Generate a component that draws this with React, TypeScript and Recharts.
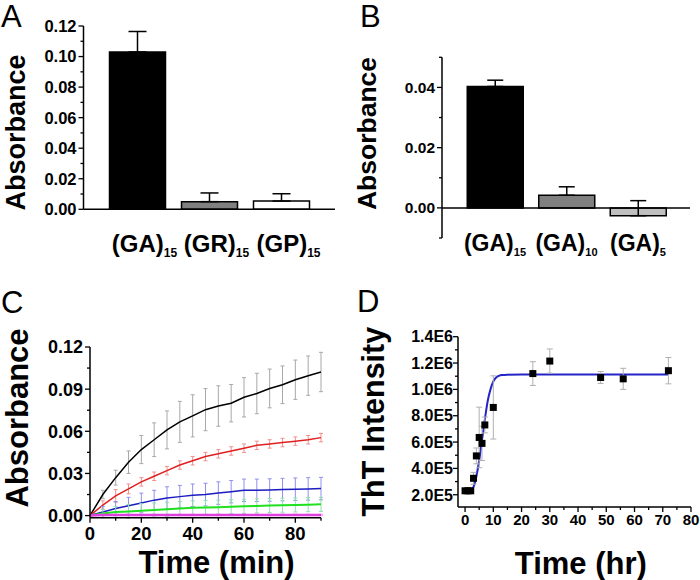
import React from "react";
import {
  BarChart,
  Bar,
  Cell,
  XAxis,
  YAxis,
  ErrorBar,
  ReferenceLine,
  LineChart,
  Line,
  ComposedChart,
  Scatter,
} from "recharts";

const FONT = "'Liberation Sans', Arial, Helvetica, sans-serif";

// ---- panel A ----
const aCategories = ["(GA)15", "(GR)15", "(GP)15"];
const aValues = [0.103, 0.005, 0.0054];
const aErrors = [0.0134, 0.0057, 0.0048];
const aColors = ["#000000", "#808080", "#ffffff"];
const aTicks = [0, 0.01, 0.02, 0.03, 0.04, 0.05, 0.06, 0.07, 0.08, 0.09, 0.1, 0.11, 0.12];
const aLabels = [0, 0.02, 0.04, 0.06, 0.08, 0.1, 0.12];

// ---- panel B ----
const bCategories = ["(GA)15", "(GA)10", "(GA)5"];
const bValues = [0.0403, 0.0042, -0.0026];
const bErrors = [0.0021, 0.0028, 0.005];
const bColors = ["#000000", "#808080", "#c0c0c0"];
const bTicks = [-0.01, 0, 0.01, 0.02, 0.03, 0.04, 0.05];
const bLabels = [0, 0.02, 0.04];

// ---- panel C ----
const cTimes = [0, 5, 10, 15, 20, 25, 30, 35, 40, 45, 50, 55, 60, 65, 70, 75, 80, 85, 90];
const cBlack = [0, 0.015, 0.027, 0.038, 0.047, 0.054, 0.061, 0.0667, 0.071, 0.0754, 0.078, 0.08, 0.0842, 0.0869, 0.0905, 0.0931, 0.0967, 0.0996, 0.1022];
const cBlackErr = [0, 0.003, 0.0053, 0.008, 0.01, 0.012, 0.0135, 0.0146, 0.015, 0.015, 0.0144, 0.0133, 0.014, 0.0144, 0.0138, 0.0134, 0.014, 0.014, 0.014];
const cRed = [0, 0.0075, 0.014, 0.019, 0.024, 0.028, 0.032, 0.036, 0.039, 0.042, 0.044, 0.046, 0.048, 0.05, 0.051, 0.052, 0.053, 0.054, 0.0555];
const cRedErr = [0, 0.003, 0.0045, 0.0035, 0.003, 0.003, 0.003, 0.003, 0.003, 0.003, 0.003, 0.003, 0.003, 0.003, 0.003, 0.003, 0.003, 0.003, 0.003];
const cBlue = [0, 0.0025, 0.005, 0.007, 0.009, 0.011, 0.0125, 0.0135, 0.0145, 0.015, 0.016, 0.017, 0.018, 0.018, 0.0182, 0.0185, 0.0188, 0.019, 0.0192];
const cBlueErr = [0, 0.004, 0.005, 0.006, 0.007, 0.007, 0.008, 0.008, 0.008, 0.008, 0.008, 0.008, 0.008, 0.008, 0.008, 0.008, 0.008, 0.008, 0.008];
const cGreen = [0, 0.0015, 0.0025, 0.003, 0.0035, 0.004, 0.0045, 0.005, 0.0055, 0.0058, 0.006, 0.0063, 0.0066, 0.0069, 0.0072, 0.0074, 0.0076, 0.0078, 0.008];
const cGreenErr = [0, 0.003, 0.004, 0.005, 0.005, 0.005, 0.005, 0.005, 0.005, 0.005, 0.005, 0.005, 0.005, 0.005, 0.005, 0.005, 0.005, 0.005, 0.005];
const cMagenta = [0, 0.0005, 0.0005, 0.0005, 0.0005, 0.0005, 0.0005, 0.0005, 0.0005, 0.0005, 0.0005, 0.0005, 0.0005, 0.0005, 0.0005, 0.0005, 0.0005, 0.0005, 0.0005];
const cMagentaErr = [0, 0.0005, 0.0005, 0.0005, 0.0005, 0.0005, 0.0005, 0.0005, 0.0005, 0.0005, 0.0005, 0.0005, 0.0005, 0.0005, 0.0005, 0.0005, 0.0005, 0.0005, 0.0005];
const cXTicks = [0, 10, 20, 30, 40, 50, 60, 70, 80, 90];
const cXLabels = [0, 20, 40, 60, 80];
const cYTicks = [0, 0.015, 0.03, 0.045, 0.06, 0.075, 0.09, 0.105, 0.12];
const cYLabels = [0, 0.03, 0.06, 0.09, 0.12];

// ---- panel D ----
const dTimes = [0, 1, 2, 3, 4, 5, 6, 7, 10, 24, 30, 48, 56, 72];
const dValues = [2.3e5, 2.3e5, 2.3e5, 3.25e5, 4.95e5, 6.35e5, 5.9e5, 7.3e5, 8.63e5, 1.12e6, 1.215e6, 1.09e6, 1.08e6, 1.142e6];
const dErrors = [1.5e4, 1.5e4, 1.5e4, 4.5e4, 6e4, 2.3e5, 1.3e5, 6e4, 2.4e5, 9e4, 9.2e4, 4.5e4, 8e4, 1e5];
const dFitTimes = [0, 1, 2, 3, 4, 5, 6, 7, 8, 9, 10, 11, 12, 13, 15, 20, 72];
const dFitValues = [2.32e5, 2.33e5, 2.38e5, 2.6e5, 3.4e5, 4.6e5, 6.15e5, 7.7e5, 9.1e5, 1.0e6, 1.06e6, 1.09e6, 1.103e6, 1.109e6, 1.112e6, 1.113e6, 1.113e6];
const dXTicks = [0, 5, 10, 15, 20, 25, 30, 35, 40, 45, 50, 55, 60, 65, 70, 75, 80];
const dXLabels = [0, 10, 20, 30, 40, 50, 60, 70, 80];
const dYTicks = [2e5, 3e5, 4e5, 5e5, 6e5, 7e5, 8e5, 9e5, 1e6, 1.1e6, 1.2e6, 1.3e6, 1.4e6];
const dYLabels = [2e5, 4e5, 6e5, 8e5, 1e6, 1.2e6, 1.4e6];

const aData = aCategories.map((name, i) => ({ name, value: aValues[i], err: [0, aErrors[i]] }));
const bData = bCategories.map((name, i) => ({ name, value: bValues[i], err: [0, bErrors[i]] }));
const cData = cTimes.map((t, i) => ({
  t,
  black: cBlack[i],
  blackErr: cBlackErr[i],
  red: cRed[i],
  redErr: cRedErr[i],
  blue: cBlue[i],
  blueErr: cBlueErr[i],
  green: cGreen[i],
  greenErr: cGreenErr[i],
  magenta: cMagenta[i],
  magentaErr: cMagentaErr[i],
}));
const dPoints = dTimes.map((t, i) => ({ t, v: dValues[i], err: dErrors[i] }));
const dFit = dFitTimes.map((t, i) => ({ t, v: dFitValues[i] }));

const cLines = [
  { key: "black", color: "#000000", errColor: "#a8a8a8", width: 1.5 },
  { key: "red", color: "#e02020", errColor: "#f09090", width: 1.5 },
  { key: "blue", color: "#1c1cc0", errColor: "#9090f0", width: 1.5 },
  { key: "green", color: "#20e020", errColor: "#90e0b0", width: 2 },
  { key: "magenta", color: "#e040e0", errColor: "#f0a0f0", width: 2.5 },
];

const isIn = (list: number[], v: number) => list.some((l) => Math.abs(l - v) < 1e-9 * Math.max(1, Math.abs(l)));

const yTick = (labels: number[], fmt: (v: number) => string, size: number, gap: number) => (props: any) => {
  const { x, y, payload } = props;
  const major = isIn(labels, payload.value);
  return (
    <g>
      <line x1={x} x2={x - (major ? 5 : 3)} y1={y} y2={y} stroke="#000" strokeWidth={1.3} />
      {major && (
        <text x={x - gap} y={y} dy="0.36em" textAnchor="end" fontFamily={FONT} fontWeight="bold" fontSize={size} fill="#000">
          {fmt(payload.value)}
        </text>
      )}
    </g>
  );
};

const xTick = (labels: number[], size: number, dy: number) => (props: any) => {
  const { x, y, payload } = props;
  const major = isIn(labels, payload.value);
  return (
    <g>
      <line x1={x} x2={x} y1={y} y2={y + (major ? 5 : 3)} stroke="#000" strokeWidth={1.3} />
      {major && (
        <text x={x} y={y + dy} textAnchor="middle" fontFamily={FONT} fontWeight="bold" fontSize={size} fill="#000">
          {payload.value}
        </text>
      )}
    </g>
  );
};

const catTick = (size: number, sub: number, dy: number, dx: number) => (props: any) => {
  const { x, y, payload } = props;
  const m = String(payload.value).match(/^(\(.*\))(\d+)$/);
  return (
    <text x={x + dx} y={y + dy} textAnchor="middle" fontFamily={FONT} fontWeight="bold" fontSize={size} fill="#000">
      <tspan>{m ? m[1] : payload.value}</tspan>
      {m && (
        <tspan fontSize={sub} dy={5}>
          {m[2]}
        </tspan>
      )}
    </text>
  );
};

const Title = ({ titleX, titleY, title, titleSize, vertical }: any) => (
  <text
    x={titleX}
    y={titleY}
    transform={vertical ? `rotate(-90, ${titleX}, ${titleY})` : undefined}
    textAnchor="middle"
    fontFamily={FONT}
    fontWeight="bold"
    fontSize={titleSize}
    fill="#000"
  >
    {title}
  </text>
);

const fixed2 = (v: number) => v.toFixed(2);
const sci = (v: number) => v.toExponential(1).toUpperCase().replace("+", "");

const PanelA = () => (
  <BarChart width={350} height={290} data={aData} margin={{ top: 26, right: 15, bottom: 0, left: 0 }}>
    <XAxis
      dataKey="name"
      height={80.7}
      padding={{ left: 18, right: 17.5 }}
      axisLine={{ stroke: "#000", strokeWidth: 1.5 }}
      tickLine={false}
      tickSize={0}
      tickMargin={0}
      interval={0}
      tick={catTick(24, 12, 43, 7)}
    />
    <YAxis
      width={83.5}
      domain={[0, 0.12]}
      ticks={aTicks}
      interval={0}
      allowDataOverflow
      axisLine={{ stroke: "#000", strokeWidth: 1.5 }}
      tickLine={false}
      tickSize={0}
      tickMargin={0}
      tick={yTick(aLabels, fixed2, 16.5, 7)}
      label={<Title titleX={25} titleY={132.5} title="Absorbance" titleSize={27} vertical />}
    />
    <Bar dataKey="value" barSize={56} stroke="#000" strokeWidth={1.5} isAnimationActive={false}>
      {aData.map((d, i) => (
        <Cell key={d.name} fill={aColors[i]} />
      ))}
      <ErrorBar dataKey="err" width={9} stroke="#000" strokeWidth={1.5} direction="y" />
    </Bar>
  </BarChart>
);

const PanelB = () => (
  <BarChart width={350} height={290} data={bData} margin={{ top: 57.3, right: 10, bottom: 0, left: 0 }}>
    <XAxis
      dataKey="name"
      height={52}
      padding={{ left: 17.25, right: 16.25 }}
      axisLine={false}
      tickLine={false}
      tickSize={0}
      tickMargin={0}
      interval={0}
      tick={catTick(23, 11, 13, 0)}
    />
    <YAxis
      width={92}
      domain={[-0.01, 0.05]}
      ticks={bTicks}
      interval={0}
      allowDataOverflow
      axisLine={{ stroke: "#000", strokeWidth: 1.5 }}
      tickLine={false}
      tickSize={0}
      tickMargin={0}
      tick={yTick(bLabels, fixed2, 15.5, 7)}
      label={<Title titleX={26} titleY={133.5} title="Absorbance" titleSize={26.5} vertical />}
    />
    <ReferenceLine y={0} stroke="#000" strokeWidth={1.5} />
    <Bar dataKey="value" barSize={56} stroke="#000" strokeWidth={1.5} isAnimationActive={false}>
      {bData.map((d, i) => (
        <Cell key={d.name} fill={bColors[i]} />
      ))}
      <ErrorBar dataKey="err" width={8} stroke="#000" strokeWidth={1.5} direction="y" />
    </Bar>
  </BarChart>
);

const PanelC = () => (
  <LineChart width={350} height={290} data={cData} margin={{ top: 57, right: 29, bottom: 0, left: 0 }}>
    <XAxis
      dataKey="t"
      type="number"
      domain={[0, 90]}
      ticks={cXTicks}
      interval={0}
      height={62.3}
      axisLine={{ stroke: "#000", strokeWidth: 1.5 }}
      tickLine={false}
      tickSize={0}
      tickMargin={0}
      tick={xTick(cXLabels, 18.5, 22)}
      label={<Title titleX={216.5} titleY={282.5} title="Time (min)" titleSize={31} />}
    />
    <YAxis
      width={90}
      domain={[-0.0015, 0.12]}
      ticks={cYTicks}
      interval={0}
      allowDataOverflow
      axisLine={{ stroke: "#000", strokeWidth: 1.5 }}
      tickLine={false}
      tickSize={0}
      tickMargin={0}
      tick={yTick(cYLabels, fixed2, 18, 7)}
      label={<Title titleX={28} titleY={128} title="Absorbance" titleSize={31} vertical />}
    />
    {cLines.map((l) => (
      <Line
        key={l.key}
        dataKey={l.key}
        type="linear"
        stroke={l.color}
        strokeWidth={l.width}
        dot={false}
        isAnimationActive={false}
      >
        <ErrorBar dataKey={`${l.key}Err`} width={2} stroke={l.errColor} strokeWidth={1} direction="y" />
      </Line>
    ))}
  </LineChart>
);

const PanelD = () => (
  <ComposedChart width={350} height={290} margin={{ top: 46.7, right: 9, bottom: 0, left: 0 }}>
    <XAxis
      dataKey="t"
      type="number"
      domain={[-2.5, 80]}
      ticks={dXTicks}
      interval={0}
      allowDataOverflow
      height={73}
      axisLine={{ stroke: "#000", strokeWidth: 1.5 }}
      tickLine={false}
      tickSize={0}
      tickMargin={0}
      tick={xTick(dXLabels, 15, 17.5)}
      label={<Title titleX={230.8} titleY={284} title="Time (hr)" titleSize={31} />}
    />
    <YAxis
      dataKey="v"
      width={108}
      domain={[1.07e5, 1.4e6]}
      ticks={dYTicks}
      interval={0}
      allowDataOverflow
      axisLine={{ stroke: "#000", strokeWidth: 1.5 }}
      tickLine={false}
      tickSize={0}
      tickMargin={0}
      tick={yTick(dYLabels, sci, 16, 5)}
      label={<Title titleX={34} titleY={131.7} title="ThT Intensity" titleSize={30.5} vertical />}
    />
    <Line
      data={dFit}
      dataKey="v"
      type="monotone"
      stroke="#2424c8"
      strokeWidth={2}
      dot={false}
      isAnimationActive={false}
    />
    <Scatter
      data={dPoints}
      dataKey="v"
      isAnimationActive={false}
      shape={(p: any) => <rect x={p.cx - 3.5} y={p.cy - 3.5} width={7} height={7} fill="#000" />}
    >
      <ErrorBar dataKey="err" width={3} stroke="#b0b0b0" strokeWidth={1} direction="y" />
    </Scatter>
  </ComposedChart>
);

const letter = { fontFamily: FONT, fontSize: 31, fill: "#000" };

export default function App() {
  return (
    <div style={{ position: "absolute", left: 0, top: 0, width: 700, height: 580, background: "#fff" }}>
      <div style={{ position: "absolute", left: 0, top: 0 }}>
        <PanelA />
      </div>
      <div style={{ position: "absolute", left: 350, top: 0 }}>
        <PanelB />
      </div>
      <div style={{ position: "absolute", left: 0, top: 290 }}>
        <PanelC />
      </div>
      <div style={{ position: "absolute", left: 350, top: 290 }}>
        <PanelD />
      </div>
      <svg width={700} height={580} style={{ position: "absolute", left: 0, top: 0, pointerEvents: "none" }}>
        <text x={1} y={27} {...letter}>A</text>
        <text x={360} y={27} {...letter}>B</text>
        <text x={1} y={313} {...letter}>C</text>
        <text x={357} y={312} {...letter}>D</text>
      </svg>
    </div>
  );
}
